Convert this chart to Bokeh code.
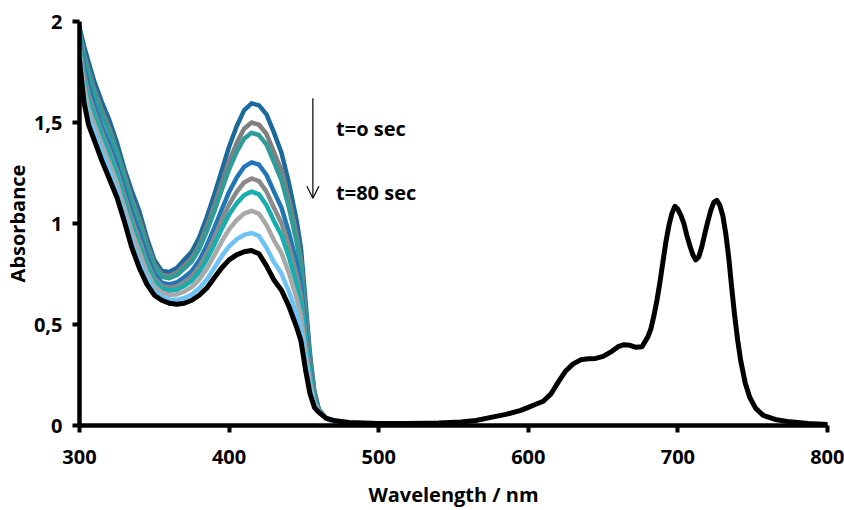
from bokeh.plotting import figure
from bokeh.models import Range1d, FixedTicker, Arrow, OpenHead, Label, CustomJSTickFormatter
from bokeh.embed import file_html
from bokeh.resources import INLINE

# ---------------- data ----------------
wl_uv = [300, 303, 306, 310, 315, 320, 325, 330, 335, 340, 345, 350, 355, 360, 365, 370,
         375, 380, 385, 390, 395, 400, 405, 410, 415, 420, 425, 430, 435, 440, 445, 448,
         451, 454, 457, 460, 465, 470, 480, 500]

abs_s1 = [1.97, 1.88, 1.80, 1.70, 1.60, 1.51, 1.40, 1.27, 1.16, 1.06, 0.93, 0.82, 0.765, 0.76, 0.78, 0.82,
          0.86, 0.93, 1.03, 1.14, 1.26, 1.38, 1.48, 1.56, 1.595, 1.585, 1.54, 1.45, 1.35, 1.20, 1.02, 0.88,
          0.62, 0.36, 0.17, 0.08, 0.035, 0.02, 0.012, 0.01]
abs_s2 = [1.95, 1.84, 1.76, 1.66, 1.56, 1.47, 1.36, 1.24, 1.12, 1.02, 0.90, 0.80, 0.746, 0.74, 0.757, 0.792,
          0.829, 0.893, 0.985, 1.087, 1.198, 1.307, 1.397, 1.469, 1.50, 1.489, 1.443, 1.355, 1.262, 1.121, 0.951, 0.82,
          0.576, 0.334, 0.16, 0.078, 0.035, 0.02, 0.012, 0.01]
abs_s3 = [1.94, 1.82, 1.74, 1.64, 1.54, 1.45, 1.35, 1.22, 1.10, 1.00, 0.88, 0.785, 0.736, 0.729, 0.744, 0.777,
          0.812, 0.873, 0.96, 1.058, 1.164, 1.268, 1.353, 1.42, 1.449, 1.438, 1.39, 1.304, 1.214, 1.078, 0.914, 0.788,
          0.552, 0.32, 0.154, 0.077, 0.035, 0.02, 0.012, 0.01]
abs_s4 = [1.91, 1.77, 1.68, 1.58, 1.48, 1.39, 1.29, 1.17, 1.05, 0.95, 0.84, 0.75, 0.707, 0.698, 0.708, 0.734,
          0.764, 0.816, 0.89, 0.976, 1.068, 1.156, 1.226, 1.28, 1.303, 1.291, 1.24, 1.158, 1.078, 0.956, 0.808, 0.696,
          0.484, 0.28, 0.138, 0.074, 0.035, 0.02, 0.012, 0.01]
abs_s5 = [1.89, 1.74, 1.64, 1.55, 1.45, 1.36, 1.26, 1.14, 1.02, 0.92, 0.81, 0.73, 0.691, 0.681, 0.688, 0.71,
          0.738, 0.785, 0.852, 0.931, 1.015, 1.094, 1.156, 1.203, 1.223, 1.21, 1.158, 1.078, 1.003, 0.889, 0.75, 0.645,
          0.447, 0.258, 0.129, 0.072, 0.035, 0.02, 0.012, 0.01]
abs_s6 = [1.87, 1.71, 1.61, 1.53, 1.43, 1.34, 1.24, 1.11, 0.99, 0.89, 0.79, 0.715, 0.678, 0.667, 0.672, 0.691,
          0.716, 0.759, 0.82, 0.894, 0.972, 1.044, 1.099, 1.14, 1.158, 1.144, 1.09, 1.012, 0.942, 0.834, 0.702, 0.604,
          0.416, 0.24, 0.122, 0.071, 0.035, 0.02, 0.012, 0.01]
abs_s7 = [1.85, 1.68, 1.57, 1.49, 1.39, 1.30, 1.20, 1.08, 0.96, 0.86, 0.76, 0.69, 0.659, 0.647, 0.649, 0.663,
          0.685, 0.722, 0.775, 0.841, 0.91, 0.971, 1.016, 1.049, 1.063, 1.048, 0.993, 0.917, 0.854, 0.755, 0.633, 0.544,
          0.372, 0.214, 0.112, 0.069, 0.035, 0.02, 0.012, 0.01]
abs_s8 = [1.83, 1.63, 1.53, 1.45, 1.35, 1.26, 1.16, 1.04, 0.91, 0.81, 0.73, 0.665, 0.637, 0.624, 0.622, 0.631,
          0.649, 0.679, 0.722, 0.779, 0.838, 0.887, 0.921, 0.944, 0.953, 0.938, 0.88, 0.808, 0.752, 0.663, 0.554, 0.475,
          0.321, 0.184, 0.10, 0.067, 0.035, 0.02, 0.012, 0.01]

wl_final = [300, 303, 306, 310, 315, 320, 325, 330, 335, 340, 345, 350, 355, 360, 365, 370,
            375, 380, 385, 390, 395, 400, 405, 410, 415, 420, 425, 430, 435, 440, 445, 448,
            451, 454, 457, 460, 465, 470, 480,
            500, 520, 540, 555, 565, 575, 585, 595, 600, 605,
            610, 615, 620, 625, 630, 635, 640, 645, 650, 655,
            660, 664, 668, 672, 676, 680, 682, 684, 686, 688,
            690, 692, 694, 696, 698, 700, 702, 704, 706, 708,
            710, 712, 714, 716, 718, 720, 722, 724, 726, 728,
            730, 732, 734, 736, 738, 740, 742, 745, 748, 752,
            757, 765, 775, 787, 800]
abs_final = [1.81, 1.60, 1.49, 1.41, 1.31, 1.22, 1.13, 1.01, 0.88, 0.78, 0.70, 0.645, 0.62, 0.605, 0.60, 0.605,
             0.62, 0.645, 0.68, 0.73, 0.78, 0.82, 0.845, 0.86, 0.866, 0.85, 0.79, 0.72, 0.67, 0.59, 0.49, 0.42,
             0.28, 0.16, 0.09, 0.065, 0.035, 0.025, 0.015,
             0.01, 0.01, 0.012, 0.017, 0.025, 0.04, 0.055, 0.075, 0.09, 0.105,
             0.12, 0.155, 0.215, 0.27, 0.305, 0.325, 0.33, 0.332, 0.342, 0.363,
             0.39, 0.40, 0.397, 0.387, 0.39, 0.44, 0.48, 0.545, 0.62, 0.71,
             0.81, 0.91, 0.99, 1.05, 1.085, 1.07, 1.04, 1.00, 0.94, 0.89,
             0.845, 0.82, 0.835, 0.885, 0.95, 1.01, 1.065, 1.105, 1.115, 1.09,
             1.04, 0.95, 0.83, 0.68, 0.54, 0.42, 0.32, 0.21, 0.14, 0.085,
             0.05, 0.03, 0.018, 0.01, 0.005]

series_uv = [abs_s1, abs_s2, abs_s3, abs_s4, abs_s5, abs_s6, abs_s7, abs_s8]
colors_uv = ["#1B6A9C", "#7F7F7F", "#2E9C98", "#2176B8", "#8A8A8A", "#16AEAE", "#A8A8A8", "#6EC3F6"]

x_ticks = [300, 400, 500, 600, 700, 800]
y_ticks = [0, 0.5, 1, 1.5, 2]
x_title = "Wavelength / nm"
y_title = "Absorbance"

FONT = "Open Sans"

# ---------------- figure ----------------
p = figure(width=844, height=510, x_range=Range1d(300, 800), y_range=Range1d(0, 2),
           output_backend="svg", toolbar_location=None,
           min_border_left=78, min_border_right=17, min_border_top=21, min_border_bottom=85)
p.background_fill_color = "white"
p.border_fill_color = "white"
p.outline_line_color = None
p.xgrid.visible = False
p.ygrid.visible = False

for ys, c in zip(series_uv, colors_uv):
    p.line(wl_uv, ys, line_color=c, line_width=4.5, line_join="round", line_cap="round")
p.line(wl_final, abs_final, line_color="black", line_width=5, line_join="round", line_cap="round")

for ax in (p.xaxis[0], p.yaxis[0]):
    ax.axis_line_width = 4.5
    ax.axis_line_color = "black"
    ax.major_tick_line_width = 4
    ax.major_tick_line_color = "black"
    ax.major_tick_out = 7
    ax.major_tick_in = 0
    ax.minor_tick_line_color = None
    ax.major_label_text_font = FONT
    ax.major_label_text_font_style = "bold"
    ax.major_label_text_font_size = "20px"
    ax.major_label_text_color = "black"
    ax.axis_label_text_font = FONT
    ax.axis_label_text_font_style = "bold"
    ax.axis_label_text_font_size = "20px"
    ax.axis_label_text_color = "black"

p.xaxis.ticker = FixedTicker(ticks=x_ticks)
p.yaxis.ticker = FixedTicker(ticks=y_ticks)
p.yaxis.formatter = CustomJSTickFormatter(code="return tick.toString().replace('.', ',');")
p.xaxis.axis_label = x_title
p.yaxis.axis_label = y_title
p.xaxis.major_label_standoff = 17
p.xaxis.axis_label_standoff = 14
p.yaxis.major_label_standoff = 10
p.yaxis.axis_label_standoff = 0

# annotations
p.add_layout(Arrow(end=OpenHead(size=12, line_width=1.2, line_color="black"),
                   x_start=456, y_start=1.62, x_end=456, y_end=1.125,
                   line_width=1.2, line_color="black"))
for txt, yy in (("t=o sec", 1.47), ("t=80 sec", 1.153)):
    p.add_layout(Label(x=471.5, y=yy, text=txt, text_font=FONT, text_font_style="bold",
                       text_font_size="20px", text_color="black", text_baseline="alphabetic"))

open("out.html", "w").write(file_html(p, INLINE))
